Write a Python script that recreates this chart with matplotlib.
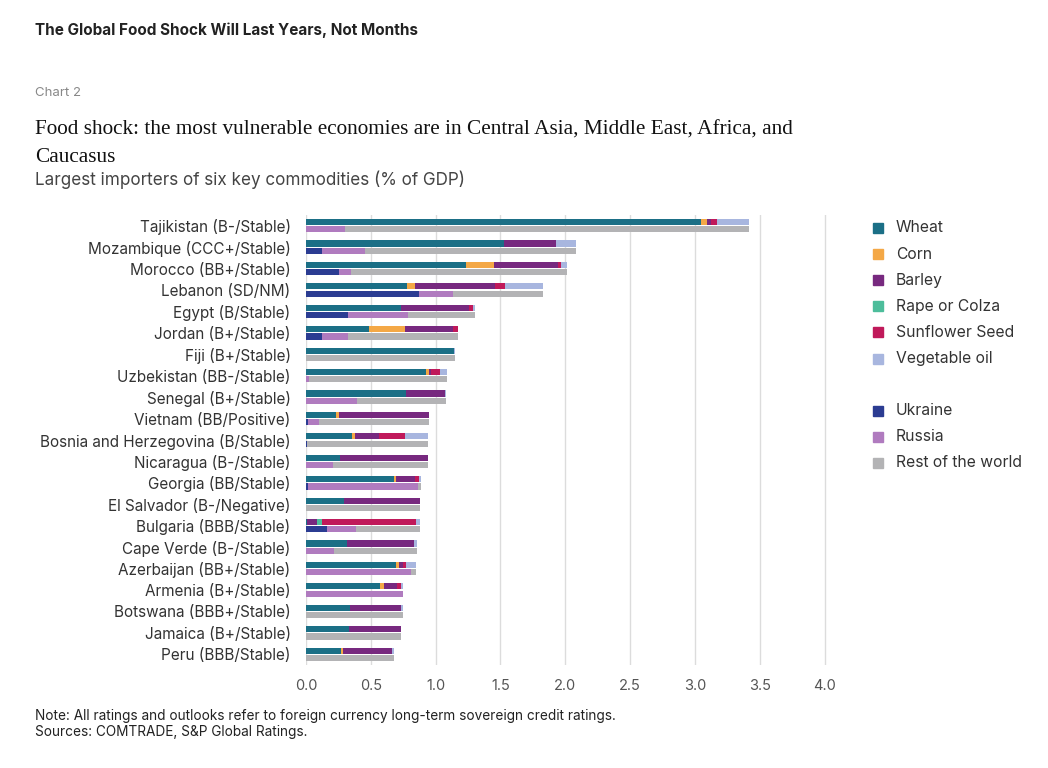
import numpy as np
import matplotlib.pyplot as plt
from matplotlib.patches import Rectangle

countries = [
    "Tajikistan (B-/Stable)", "Mozambique (CCC+/Stable)", "Morocco (BB+/Stable)",
    "Lebanon (SD/NM)", "Egypt (B/Stable)", "Jordan (B+/Stable)", "Fiji (B+/Stable)",
    "Uzbekistan (BB-/Stable)", "Senegal (B+/Stable)", "Vietnam (BB/Positive)",
    "Bosnia and Herzegovina (B/Stable)", "Nicaragua (B-/Stable)", "Georgia (BB/Stable)",
    "El Salvador (B-/Negative)", "Bulgaria (BBB/Stable)", "Cape Verde (B-/Stable)",
    "Azerbaijan (BB+/Stable)", "Armenia (B+/Stable)", "Botswana (BBB+/Stable)",
    "Jamaica (B+/Stable)", "Peru (BBB/Stable)",
]

# by commodity (% of GDP)
wheat     = [3.044, 1.524, 1.237, 0.776, 0.735, 0.486, 1.144, 0.928, 0.774, 0.234, 0.355,
             0.265, 0.676, 0.290, 0.008, 0.314, 0.697, 0.571, 0.342, 0.329, 0.270]
corn      = [0.051, 0.000, 0.215, 0.065, 0.000, 0.280, 0.000, 0.021, 0.000, 0.018, 0.020,
             0.000, 0.018, 0.000, 0.000, 0.000, 0.020, 0.028, 0.000, 0.000, 0.015]
barley    = [0.031, 0.404, 0.494, 0.619, 0.522, 0.370, 0.000, 0.012, 0.295, 0.699, 0.191,
             0.673, 0.149, 0.592, 0.079, 0.521, 0.031, 0.100, 0.393, 0.404, 0.381]
rape      = [0.000, 0.000, 0.000, 0.000, 0.000, 0.000, 0.000, 0.000, 0.000, 0.000, 0.000,
             0.000, 0.000, 0.000, 0.036, 0.000, 0.000, 0.000, 0.000, 0.000, 0.000]
sunflower = [0.046, 0.000, 0.018, 0.075, 0.028, 0.036, 0.000, 0.075, 0.000, 0.000, 0.200,
             0.000, 0.028, 0.000, 0.723, 0.000, 0.021, 0.034, 0.000, 0.000, 0.000]
veg_oil   = [0.248, 0.154, 0.049, 0.293, 0.021, 0.000, 0.005, 0.049, 0.011, 0.000, 0.175,
             0.000, 0.013, 0.000, 0.033, 0.024, 0.077, 0.018, 0.011, 0.000, 0.010]

# by origin (% of GDP)
ukraine   = [0.000, 0.123, 0.252, 0.874, 0.326, 0.123, 0.000, 0.000, 0.000, 0.013, 0.005,
             0.000, 0.015, 0.000, 0.162, 0.000, 0.000, 0.000, 0.000, 0.000, 0.000]
russia    = [0.300, 0.332, 0.095, 0.262, 0.461, 0.201, 0.000, 0.023, 0.393, 0.090, 0.000,
             0.206, 0.851, 0.000, 0.221, 0.219, 0.812, 0.745, 0.000, 0.000, 0.000]
rest      = [3.120, 1.627, 1.666, 0.692, 0.519, 0.848, 1.149, 1.062, 0.687, 0.848, 0.936,
             0.732, 0.018, 0.882, 0.496, 0.640, 0.034, 0.006, 0.746, 0.733, 0.676]

commodity_series = [
    ("Wheat", wheat, "#1b6f86"),
    ("Corn", corn, "#f4a846"),
    ("Barley", barley, "#77297f"),
    ("Rape or Colza", rape, "#4dbd9b"),
    ("Sunflower Seed", sunflower, "#c0195a"),
    ("Vegetable oil", veg_oil, "#a8b6df"),
]
origin_series = [
    ("Ukraine", ukraine, "#2b3c92"),
    ("Russia", russia, "#b07bbf"),
    ("Rest of the world", rest, "#b3b3b5"),
]

plt.rcParams['font.family'] = ['Inter', 'DejaVu Sans']

fig = plt.figure(figsize=(10.48, 7.68), dpi=100)
ax = fig.add_axes([306 / 1048, 103 / 768, 525 / 1048, 450 / 768])

y = np.arange(len(countries))
h = 0.29
off = 0.17

left = np.zeros(len(countries))
for name, vals, col in commodity_series:
    ax.barh(y - off, vals, height=h, left=left, color=col, edgecolor="none", zorder=3)
    left += np.array(vals)

left = np.zeros(len(countries))
for name, vals, col in origin_series:
    ax.barh(y + off, vals, height=h, left=left, color=col, edgecolor="none", zorder=3)
    left += np.array(vals)

ax.set_ylim(len(countries) - 0.5, -0.5)
ax.set_xlim(0, 4.05)
ax.set_xticks(np.arange(0, 4.01, 0.5))
ax.set_xticklabels([f"{v:.1f}" for v in np.arange(0, 4.01, 0.5)])
ax.set_yticks(y)
ax.set_yticklabels(countries)
ax.tick_params(axis="y", length=0, pad=11, labelsize=11, labelcolor="#333333")
ax.tick_params(axis="x", length=0, pad=10, labelsize=10.5, labelcolor="#555555")
ax.grid(axis="x", color="#dcdcdc", linewidth=1, zorder=0)
for s in ax.spines.values():
    s.set_visible(False)

# legend drawn by hand
legend_items = [(n, c) for n, _, c in commodity_series] + [None] + [(n, c) for n, _, c in origin_series]
ly = 228
for item in legend_items:
    if item is not None:
        name, col = item
        fig.patches.append(Rectangle((873 / 1048, 1 - (ly + 5) / 768), 10 / 1048, 10 / 768,
                                     transform=fig.transFigure, color=col, figure=fig))
        fig.text(896 / 1048, 1 - ly / 768, name, fontsize=11.3, color="#333333", va="center")
    ly += 26.1

fig.text(35 / 1048, 1 - 30 / 768, "The Global Food Shock Will Last Years, Not Months",
         fontsize=11, fontweight="bold", color="#222222", va="center")
fig.text(35 / 1048, 1 - 93 / 768, "Chart 2", fontsize=9.5, color="#888888", va="center")
fig.text(35 / 1048, 1 - 130 / 768,
         "Food shock: the most vulnerable economies are in Central Asia, Middle East, Africa, and",
         fontsize=15.3, family="Liberation Serif", color="#111111", va="center")
fig.text(35 / 1048, 1 - 157 / 768, "Caucasus",
         fontsize=15.3, family="Liberation Serif", color="#111111", va="center")
fig.text(35 / 1048, 1 - 180 / 768, "Largest importers of six key commodities (% of GDP)",
         fontsize=12.3, color="#444444", va="center")
fig.text(35 / 1048, 1 - 716 / 768,
         "Note: All ratings and outlooks refer to foreign currency long-term sovereign credit ratings.",
         fontsize=9.8, color="#222222", va="center")
fig.text(35 / 1048, 1 - 732 / 768, "Sources: COMTRADE, S&P Global Ratings.",
         fontsize=9.8, color="#222222", va="center")

fig.savefig("out.png", dpi=100, facecolor="white")
